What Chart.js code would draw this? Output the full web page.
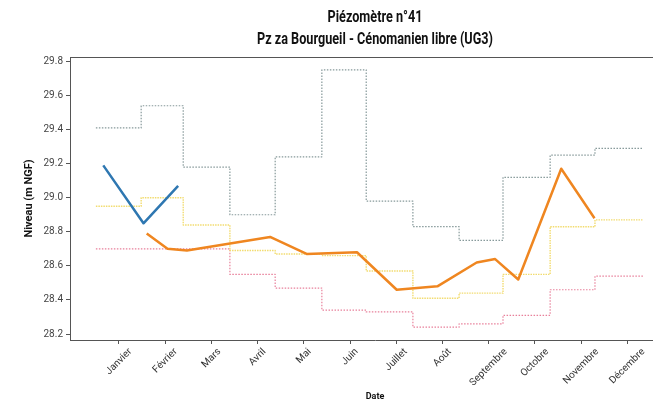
<!DOCTYPE html>
<html>
<head>
<meta charset="utf-8">
<script src="https://cdn.jsdelivr.net/npm/chart.js@4.4.1/dist/chart.umd.min.js"></script>
<style>
  html, body { margin: 0; padding: 0; background: #fff; overflow: hidden; }
  #wrap { width: 653px; height: 404px; overflow: hidden; }
</style>
</head>
<body>
<div id="wrap"><canvas id="piezoChart" width="680" height="404"></canvas></div>
<script>
// --- Données ---
const titleLines = ['Piézomètre n°41', 'Pz za Bourgueil - Cénomanien libre (UG3)'];
const monthLabels = ['Janvier', 'Février', 'Mars', 'Avril', 'Mai', 'Juin', 'Juillet',
                     'Août', 'Septembre', 'Octobre', 'Novembre', 'Décembre'];
const monthTicks = [0, 1, 2, 3, 4, 5, 6, 7, 8, 9, 10, 11];
const yTicks = [28.2, 28.4, 28.6, 28.8, 29.0, 29.2, 29.4, 29.6, 29.8];

// paliers mensuels (position en mois) : max, médiane, min
const stepX = [-0.5, 0.48, 1.39, 2.40, 3.38, 4.39, 5.35, 6.36, 7.36, 8.31, 9.33, 10.30, 11.34];
const maxLevels = [29.41, 29.54, 29.18, 28.90, 29.24, 29.75, 28.98, 28.83, 28.75, 29.12, 29.25, 29.29];
const medLevels = [28.95, 29.00, 28.84, 28.69, 28.67, 28.66, 28.57, 28.41, 28.44, 28.55, 28.83, 28.87];
const minLevels = [28.70, 28.70, 28.70, 28.55, 28.47, 28.34, 28.33, 28.24, 28.26, 28.31, 28.46, 28.54];

// mesures
const blueX = [-0.34, 0.53, 1.28];
const blueY = [29.19, 28.85, 29.07];
const orangeX = [0.60, 1.05, 1.47, 3.27, 4.06, 5.15, 6.01, 6.89, 7.74, 8.14, 8.64, 9.57, 10.29];
const orangeY = [28.79, 28.70, 28.69, 28.77, 28.67, 28.68, 28.46, 28.48, 28.62, 28.64, 28.52, 29.17, 28.88];

const toPoints = (xs, ys) => xs.map((x, i) => ({ x: x, y: ys[i] }));
// un point de plus en fin de palier pour fermer le dernier mois
const toSteps = (levels) => stepX.map((x, i) => ({ x: x, y: levels[Math.min(i, levels.length - 1)] }));

const axisColor = '#555';

// titre centré sur la zone de tracé, cadre du haut et étiquettes des mois
const framePlugin = {
    id: 'frame',
    afterDraw(chart) {
        const { ctx, chartArea } = chart;
        ctx.save();
        ctx.strokeStyle = axisColor;
        ctx.lineWidth = 1;
        ctx.beginPath();
        ctx.moveTo(chartArea.left, chartArea.top + 0.5);
        ctx.lineTo(chartArea.right, chartArea.top + 0.5);
        ctx.stroke();

        const cx = (chartArea.left + chartArea.right) / 2;
        ctx.fillStyle = '#111';
        ctx.font = 'bold 16px Roboto';
        ctx.textAlign = 'center';
        ctx.textBaseline = 'alphabetic';
        const squeeze = Math.min(1, 236 / ctx.measureText(titleLines[1]).width);
        [22, 44].forEach((y, i) => {
            ctx.save();
            ctx.translate(cx, y);
            ctx.scale(squeeze, 1);
            ctx.fillText(titleLines[i], 0, 0);
            ctx.restore();
        });

        // tournées de 45° et centrées sous le tick
        const xs = chart.scales.x;
        ctx.fillStyle = '#333';
        ctx.font = '10px Roboto';
        ctx.textAlign = 'center';
        ctx.textBaseline = 'middle';
        monthLabels.forEach((lab, i) => {
            const px = xs.getPixelForValue(monthTicks[i]);
            const w = ctx.measureText(lab).width;
            const bh = (w + 9) * Math.SQRT1_2;
            ctx.save();
            ctx.translate(px, xs.top + 7 + bh / 2);
            ctx.rotate(-Math.PI / 4);
            ctx.fillText(lab, 0, 0);
            ctx.restore();
        });
        ctx.restore();
    }
};

const ctx = document.getElementById('piezoChart').getContext('2d');

const piezoChart = new Chart(ctx, {
    type: 'line',
    data: {
        datasets: [
            {
                label: 'Mesures récentes',
                data: toPoints(blueX, blueY),
                borderColor: '#2e77b1',
                borderWidth: 2.5,
                order: 0
            },
            {
                label: 'Mesures',
                data: toPoints(orangeX, orangeY),
                borderColor: '#ef8620',
                borderWidth: 2.5,
                order: 0
            },
            {
                label: 'Maximum',
                data: toSteps(maxLevels),
                borderColor: '#86999a',
                borderWidth: 1.2,
                borderDash: [1.5, 1.5],
                stepped: 'before',
                order: 1
            },
            {
                label: 'Médiane',
                data: toSteps(medLevels),
                borderColor: '#f2dc70',
                borderWidth: 1.4,
                borderDash: [1.5, 1],
                stepped: 'before',
                order: 1
            },
            {
                label: 'Minimum',
                data: toSteps(minLevels),
                borderColor: '#e8809b',
                borderWidth: 1.2,
                borderDash: [1.5, 1.5],
                stepped: 'before',
                order: 1
            }
        ]
    },
    options: {
        responsive: false,
        animation: false,
        events: [],
        layout: { padding: { top: 57, left: 0, right: 0, bottom: 0 } },
        elements: {
            point: { radius: 0 },
            line: { tension: 0, fill: false, borderCapStyle: 'butt', borderJoinStyle: 'round' }
        },
        plugins: {
            legend: { display: false },
            title: { display: false },
            tooltip: { enabled: false }
        },
        scales: {
            x: {
                type: 'linear',
                min: -1.06,
                max: 12.14,
                afterBuildTicks: (axis) => { axis.ticks = monthTicks.map(v => ({ value: v })); },
                afterFit: (axis) => { axis.height = 64; },
                ticks: { display: false },
                grid: { drawOnChartArea: false, drawTicks: true, tickLength: 4, color: axisColor },
                border: { color: axisColor, width: 1 },
                title: {
                    display: true,
                    text: 'Date',
                    color: '#111',
                    font: { family: 'Roboto', size: 9, weight: 'bold' },
                    padding: { top: 0, bottom: 2 }
                }
            },
            y: {
                min: 28.165,
                max: 29.826,
                afterBuildTicks: (axis) => { axis.ticks = yTicks.map(v => ({ value: v })); },
                afterFit: (axis) => { axis.width = 70; },
                ticks: {
                    color: '#444',
                    font: { family: 'Roboto', size: 10 },
                    padding: 3,
                    callback: (v) => Number(v).toFixed(1)
                },
                grid: { drawOnChartArea: false, drawTicks: true, tickLength: 4, color: axisColor },
                border: { color: axisColor, width: 1 },
                title: {
                    display: true,
                    text: 'Niveau (m NGF)',
                    color: '#111',
                    font: { family: 'Roboto', size: 11, weight: 'bold' },
                    padding: { top: 23, bottom: 0 }
                }
            }
        }
    },
    plugins: [framePlugin]
});
</script>
</body>
</html>
